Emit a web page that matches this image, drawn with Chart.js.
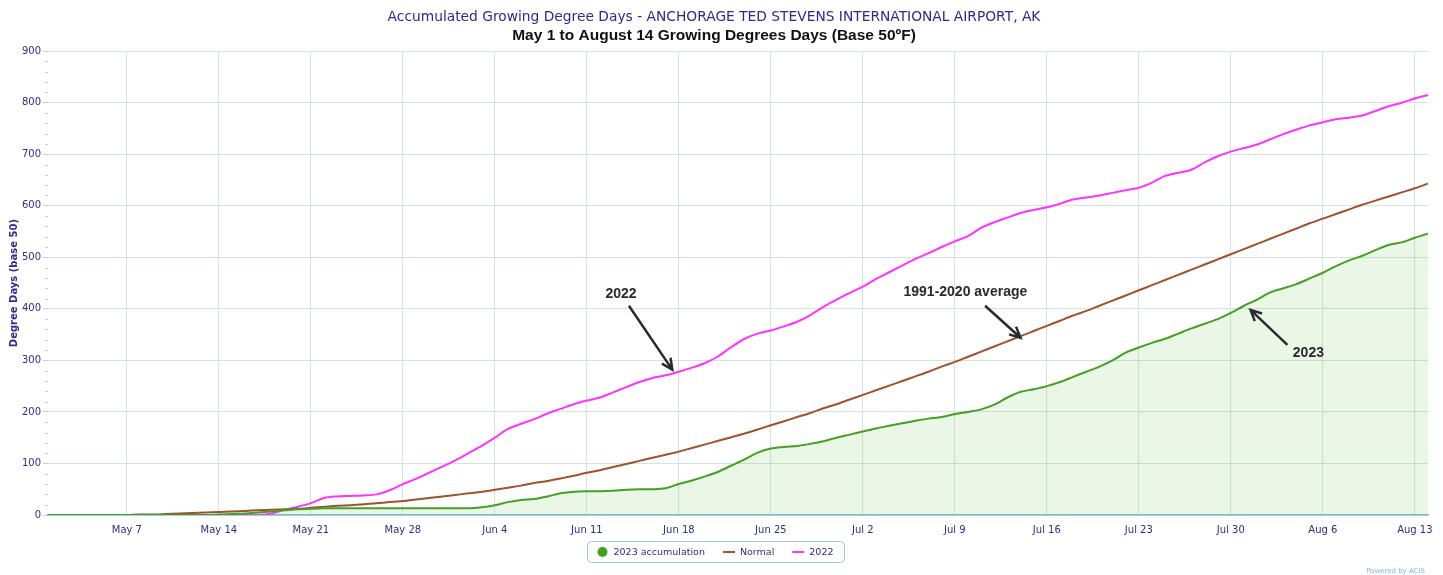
<!DOCTYPE html>
<html>
<head>
<meta charset="utf-8">
<script src="https://cdn.jsdelivr.net/npm/chart.js@4.4.0/dist/chart.umd.min.js"></script>
<style>
  html, body { margin: 0; padding: 0; background: #fff; }
  #wrap { width: 1443px; height: 575px; position: relative; }
</style>
</head>
<body>
<div id="wrap"><canvas id="gddChart"></canvas></div>
<script>
// one category per day, May 1 .. Aug 14
var monthNames = ['May', 'Jun', 'Jul', 'Aug'];
var monthDays = [31, 30, 31, 14];
var dayLabels = [];
monthNames.forEach(function (m, i) {
    for (var d = 1; d <= monthDays[i]; d++) dayLabels.push(m + ' ' + d);
});

// labels actually shown on the x axis
var weekTicks = ['May 7', 'May 14', 'May 21', 'May 28', 'Jun 4', 'Jun 11', 'Jun 18', 'Jun 25',
    'Jul 2', 'Jul 9', 'Jul 16', 'Jul 23', 'Jul 30', 'Aug 6', 'Aug 13'];

var gdd2023 = [0, 0, 0, 0, 0, 0, 0, 0, 0, 0, 0, 0, 0, 1,
    2, 3, 5, 7, 9, 11, 12, 13, 13, 13, 13, 13, 13, 13,
    13, 13, 13, 13, 13, 15, 19, 25, 29, 31, 36, 42, 45, 46,
    46, 47, 49, 50, 50, 52, 60, 67, 75, 84, 96, 108, 121, 129,
    132, 134, 138, 143, 150, 156, 162, 168, 173, 178, 183, 187, 190, 196,
    200, 205, 214, 228, 239, 244, 250, 258, 268, 278, 288, 300, 315, 325,
    334, 342, 352, 362, 371, 380, 392, 406, 418, 432, 440, 448, 459, 470,
    483, 494, 503, 514, 524, 529, 538, 546];

var gddNormal = [0, 0, 0, 0, 0, 0, 0, 1, 1, 2, 3, 4, 5, 6,
    7, 8, 9, 10, 11, 12, 14, 16, 18, 19, 21, 23, 25, 27,
    30, 33, 36, 39, 42, 45, 49, 53, 57, 62, 66, 71, 76, 82,
    87, 93, 99, 105, 111, 117, 123, 130, 137, 144, 151, 158, 166, 174,
    182, 190, 198, 207, 215, 224, 233, 242, 251, 260, 269, 278, 288, 297,
    307, 317, 327, 337, 347, 357, 367, 377, 387, 396, 406, 416, 426, 436,
    446, 456, 466, 476, 486, 496, 506, 516, 526, 536, 546, 556, 566, 575,
    584, 593, 602, 610, 618, 626, 634, 643];

var gdd2022 = [0, 0, 0, 0, 0, 0, 0, 0, 0, 0, 0, 0, 0, 0,
    0, 0, 0, 3, 10, 16, 23, 33, 36, 37, 38, 40, 48, 60,
    70, 82, 94, 106, 120, 134, 150, 167, 177, 186, 197, 206, 215, 222,
    228, 238, 248, 258, 266, 271, 278, 286, 295, 308, 326, 342, 352, 358,
    366, 375, 388, 404, 418, 431, 443, 458, 471, 484, 497, 508, 520, 531,
    541, 557, 568, 577, 586, 592, 597, 604, 612, 616, 620, 625, 630, 635,
    645, 658, 664, 670, 684, 696, 705, 712, 719, 729, 739, 748, 756, 762,
    768, 771, 775, 784, 793, 800, 808, 815];

var seriesNames = ['2023 accumulation', 'Normal', '2022'];

var navy = '#2e2e7e';
var gridColor = '#d4e2e2';

// hand drawn notes on the picture: text position and arrow, in day index / degree days
var notes = [
    { text: '2022', at: [43.6, 428], from: [44.2, 406], to: [47.5, 282] },
    { text: '1991-2020 average', at: [69.8, 432], from: [71.3, 406], to: [74, 344] },
    { text: '2023', at: [95.9, 315], from: [94.3, 330], to: [91.5, 398] }
];

function drawArrow(ctx, x1, y1, x2, y2) {
    var a = Math.atan2(y2 - y1, x2 - x1);
    var h = 12;
    ctx.beginPath();
    ctx.moveTo(x1, y1);
    ctx.lineTo(x2, y2);
    ctx.moveTo(x2 - h * Math.cos(a - 0.45), y2 - h * Math.sin(a - 0.45));
    ctx.lineTo(x2, y2);
    ctx.lineTo(x2 - h * Math.cos(a + 0.45), y2 - h * Math.sin(a + 0.45));
    ctx.stroke();
}

var extrasPlugin = {
    id: 'extras',
    afterDraw: function (chart) {
        var ctx = chart.ctx;
        var xs = chart.scales.x, ys = chart.scales.y;
        var area = chart.chartArea;
        ctx.save();

        // minor ticks on the y axis
        ctx.strokeStyle = '#c4cfcf';
        ctx.lineWidth = 1;
        for (var v = 20; v < 900; v += 20) {
            if (v % 100 === 0) continue;
            var py = Math.round(ys.getPixelForValue(v)) + 0.5;
            ctx.beginPath();
            ctx.moveTo(area.left - 3, py);
            ctx.lineTo(area.left, py);
            ctx.stroke();
        }

        // notes with arrows
        ctx.fillStyle = '#2b2b2b';
        ctx.strokeStyle = '#2b2b2b';
        ctx.lineWidth = 2.5;
        ctx.font = 'bold 14px "Liberation Sans", Arial, sans-serif';
        ctx.textAlign = 'center';
        ctx.textBaseline = 'middle';
        notes.forEach(function (n) {
            ctx.fillText(n.text, xs.getPixelForValue(n.at[0]), ys.getPixelForValue(n.at[1]));
            drawArrow(ctx, xs.getPixelForValue(n.from[0]), ys.getPixelForValue(n.from[1]),
                xs.getPixelForValue(n.to[0]), ys.getPixelForValue(n.to[1]));
        });

        // legend box under the axis
        ctx.font = '9.5px "DejaVu Sans", sans-serif';
        ctx.textAlign = 'left';
        var items = chart.data.datasets.map(function (ds) {
            return { text: ds.label, color: ds.borderColor, circle: ds.label === seriesNames[0] };
        });
        var sym = 12, gap = 5, itemGap = 18;
        var total = 0;
        items.forEach(function (it, i) {
            it.w = sym + gap + ctx.measureText(it.text).width;
            total += it.w + (i ? itemGap : 0);
        });
        var cy = 552;
        var x = 715 - total / 2;
        ctx.strokeStyle = '#9cc8e2';
        ctx.lineWidth = 1;
        ctx.beginPath();
        ctx.roundRect(Math.round(x - 10) + 0.5, cy - 10.5, Math.round(total + 20), 21, 4);
        ctx.stroke();
        items.forEach(function (it) {
            if (it.circle) {
                ctx.fillStyle = it.color;
                ctx.beginPath();
                ctx.arc(x + sym / 2, cy, 5, 0, Math.PI * 2);
                ctx.fill();
            } else {
                ctx.strokeStyle = it.color;
                ctx.lineWidth = 2;
                ctx.beginPath();
                ctx.moveTo(x, cy);
                ctx.lineTo(x + sym, cy);
                ctx.stroke();
            }
            ctx.fillStyle = navy;
            ctx.fillText(it.text, x + sym + gap, cy + 1);
            x += it.w + itemGap;
        });

        // credit
        ctx.font = '7px "DejaVu Sans", sans-serif';
        ctx.fillStyle = '#7bbbe0';
        ctx.textAlign = 'right';
        ctx.fillText('Powered by ACIS', 1425, 571);
        ctx.restore();
    }
};

var ctx = document.getElementById('gddChart').getContext('2d');
var gddChart = new Chart(ctx, {
    type: 'line',
    data: {
        labels: dayLabels,
        datasets: [
            {
                label: seriesNames[0],
                data: gdd2023,
                borderColor: '#43a023',
                backgroundColor: 'rgba(120,200,90,0.15)',
                borderWidth: 2,
                fill: 'origin'
            },
            {
                label: seriesNames[1],
                data: gddNormal,
                borderColor: '#a0522d',
                borderWidth: 2,
                fill: false
            },
            {
                label: seriesNames[2],
                data: gdd2022,
                borderColor: '#ff33ff',
                borderWidth: 2,
                fill: false
            }
        ]
    },
    options: {
        responsive: true,
        maintainAspectRatio: false,
        animation: false,
        elements: {
            point: { radius: 0 },
            line: { tension: 0.3 }
        },
        layout: { padding: { left: 0, right: 15, top: 0, bottom: 36 } },
        plugins: {
            legend: { display: false },
            tooltip: { enabled: false },
            title: {
                display: true,
                text: 'Accumulated Growing Degree Days - ANCHORAGE TED STEVENS INTERNATIONAL AIRPORT, AK',
                color: '#2b2b8c',
                font: { family: '"DejaVu Sans", sans-serif', size: 13.8, weight: 'normal' },
                padding: { top: 9, bottom: 1 }
            },
            subtitle: {
                display: true,
                text: 'May 1 to August 14 Growing Degrees Days (Base 50ºF)',
                color: '#111',
                font: { family: '"Liberation Sans", Arial, sans-serif', size: 15.5, weight: 'bold' },
                padding: { bottom: 6 }
            }
        },
        scales: {
            x: {
                grid: {
                    color: gridColor,
                    drawTicks: false
                },
                border: { color: '#7fb3d8', width: 1.5 },
                ticks: {
                    autoSkip: false,
                    maxRotation: 0,
                    padding: 9,
                    color: navy,
                    font: { family: '"DejaVu Sans", sans-serif', size: 10 },
                    callback: function (value) {
                        var lab = this.getLabelForValue(value);
                        return weekTicks.indexOf(lab) >= 0 ? lab : null;
                    }
                },
                afterFit: function (scale) { scale.height = 24; }
            },
            y: {
                min: 0,
                max: 900,
                ticks: {
                    stepSize: 100,
                    padding: 2,
                    color: navy,
                    font: { family: '"DejaVu Sans", sans-serif', size: 10 }
                },
                grid: { color: gridColor, tickLength: 5, tickColor: '#c4cfcf' },
                border: { display: false },
                title: {
                    display: true,
                    text: 'Degree Days (base 50)',
                    color: '#2e2e8a',
                    font: { family: '"DejaVu Sans", sans-serif', size: 10, weight: 'bold' },
                    padding: { top: 8, bottom: 4 }
                },
                afterFit: function (scale) { scale.width = 48; }
            }
        }
    },
    plugins: [extrasPlugin]
});
</script>
</body>
</html>
